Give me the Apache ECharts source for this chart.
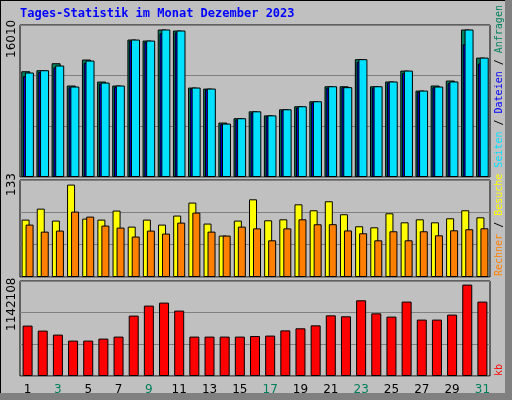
<!DOCTYPE html>
<html><head><meta charset="utf-8">
<script src="https://cdn.jsdelivr.net/npm/echarts@6/dist/echarts.min.js"></script>
<style>html,body{margin:0;padding:0;background:#c0c0c0}#c{width:512px;height:400px}</style>
</head><body><div id="c"></div>
<script>
const days = ['1','2','3','4','5','6','7','8','9','10','11','12','13','14','15','16','17','18','19','20','21','22','23','24','25','26','27','28','29','30','31'];
const weekend = ['2','3','9','10','16','17','23','24','30','31'];
const anfragen = [11480,11590,12350,9930,12750,10360,9930,14920,14810,16010,15900,9710,9600,5910,6380,7130,6690,7350,7680,8220,9850,9850,12790,9850,10370,11550,9380,9930,10470,16010,12960];
const dateien  = [10950,11400,11900,9750,12400,10150,9800,14800,14700,15600,15700,9600,9500,5750,6250,7000,6600,7250,7550,8100,9700,9750,12500,9700,10250,11300,9250,9750,10200,14420,12320];
const seiten   = [11340,11590,12100,9820,12640,10250,9930,14920,14810,16010,15900,9710,9600,5800,6380,7130,6690,7350,7680,8220,9850,9750,12790,9850,10370,11550,9380,9820,10370,16010,12960];
const besuche  = [82.6,98.4,81.2,133,84,82.6,95.6,72.5,82.6,75.4,88.4,107.1,76.9,59.6,81.2,111.8,81.6,83,104.6,96,109,90.3,73,71.5,91.7,78.7,83,78.7,84.5,96,85.9];
const rechner  = [75.4,65.3,66.8,94.1,86.9,74.0,71.1,58.2,66.8,62.5,78.3,92.7,65.3,59.6,72.5,70,52.8,70,83,75.9,76,67,62.9,52.8,65.8,52.8,65.8,60,67.2,68.7,70.1];
const kb       = [629800,567300,517300,442300,442300,467300,492300,754700,879700,917200,817200,492300,492300,492300,492300,500000,505000,570000,596000,633000,758000,746000,946000,783000,742000,929700,704700,704700,767000,1142108,929700];
const maxLabels = ['16010','133','1142108'];

const ch = echarts.init(document.getElementById('c'));
const grids = [
  {left:20,right:22,top:25,height:152},
  {left:20,right:22,top:180,height:97},
  {left:20,right:22,top:281,height:95}
].map(g=>Object.assign(g,{show:true,backgroundColor:'#c0c0c0',borderColor:'#000',borderWidth:1}));
const xa = i => ({type:'category',gridIndex:i,data:days,axisLine:{show:false},axisTick:{show:false},
  axisLabel:i===2?{show:true,margin:8,fontFamily:'DejaVu Sans',fontSize:12,color:(v)=>weekend.includes(v)?'#00805c':'#000'}:{show:false}});
const ya = (i,max,iv) => ({type:'value',gridIndex:i,min:0,max:max,interval:iv,axisLabel:{show:false},axisLine:{show:false},axisTick:{show:false},
  splitLine:{show:true,lineStyle:{color:'#808080',width:1}}});
const bs = (name,xi,data,color,w,gap) => ({type:'bar',name,xAxisIndex:xi,yAxisIndex:xi,data,barWidth:w,barGap:gap,
  itemStyle:{color,borderColor:'#000',borderWidth:1},animation:false});
const txt = (t,x,y,color,size,rot,font) => ({type:'text',x,y,rotation:rot,style:{text:t,fill:color,font:(size)+'px '+(font||'DejaVu Sans')}});
ch.setOption({
  animation:false,
  backgroundColor:'#c0c0c0',
  grid:grids,
  xAxis:[xa(0),xa(1),xa(2)],
  yAxis:[ya(0,16500,5500),ya(1,139.6,46.53),ya(2,1187100,395700)],
  series:[
    bs('Anfragen',0,anfragen,'#00805c',9,'-80%'),
    bs('Dateien',0,dateien,'#0000ff',9,'-80%'),
    bs('Seiten',0,seiten,'#00e0ff',9,'-80%'),
    bs('Besuche',1,besuche,'#ffff00',8,'-50%'),
    bs('Rechner',1,rechner,'#ff8000',8,'-50%'),
    bs('kb',2,kb,'#ff0000',10,'0%')
  ],
  graphic:[
    {type:'rect',shape:{x:0,y:0,width:512,height:400},style:{fill:'none',stroke:'#000',lineWidth:2},z:-1},
    {type:'rect',shape:{x:505,y:0,width:7,height:400},style:{fill:'#808080'}},
    {type:'rect',shape:{x:0,y:393,width:512,height:7},style:{fill:'#808080'}},
    txt('Tages-Statistik im Monat Dezember 2023',20,8,'#0000ff','bold 12',0,'DejaVu Sans Mono'),
    {type:'text',x:6,y:58,rotation:Math.PI/2,style:{text:maxLabels[0],fill:'#000',font:'12px DejaVu Sans'}},
    {type:'text',x:6,y:196,rotation:Math.PI/2,style:{text:maxLabels[1],fill:'#000',font:'12px DejaVu Sans'}},
    {type:'text',x:6,y:331,rotation:Math.PI/2,style:{text:maxLabels[2],fill:'#000',font:'12px DejaVu Sans'}},
    {type:'text',x:494,y:276,rotation:Math.PI/2,style:{
      text:'{r|Rechner} {g|/} {y|Besuche} {c|Seiten} {g|/} {b|Dateien} {g|/} {a|Anfragen}',
      font:'10px DejaVu Sans Mono',
      rich:{r:{fill:'#ff8000',font:'10px DejaVu Sans Mono'},g:{fill:'#000',font:'10px DejaVu Sans Mono'},y:{fill:'#ffff00',font:'10px DejaVu Sans Mono'},
            c:{fill:'#00e0ff',font:'10px DejaVu Sans Mono'},b:{fill:'#0000ff',font:'10px DejaVu Sans Mono'},a:{fill:'#00805c',font:'10px DejaVu Sans Mono'}}}},
    {type:'text',x:494,y:376,rotation:Math.PI/2,style:{text:'kb',fill:'#ff0000',font:'10px DejaVu Sans Mono'}}
  ]
});
</script></body></html>
